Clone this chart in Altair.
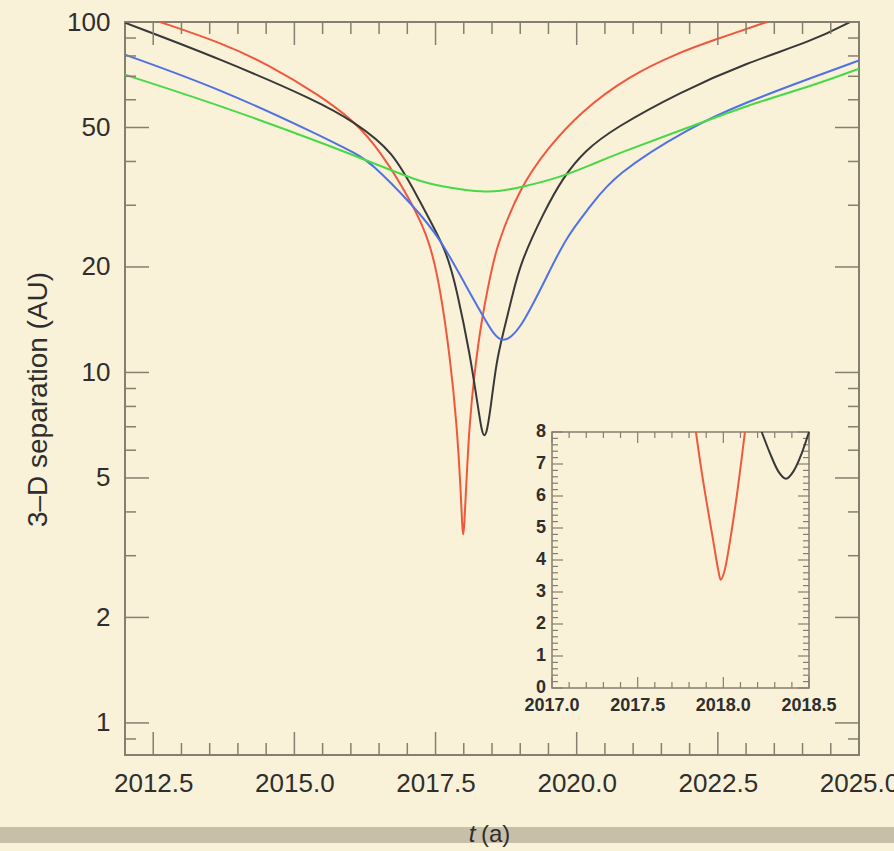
import altair as alt
import pandas as pd

# ---------------- data ----------------
red_t = [2012.62, 2013.68, 2014.57, 2015.45, 2016.04, 2016.52, 2017.10, 2017.40, 2017.58,
         2017.756, 2017.875, 2017.946, 2017.975, 2017.99, 2018.005, 2018.04, 2018.10, 2018.19,
         2018.31, 2018.46, 2018.58, 2019.00, 2019.47, 2020.06, 2020.94, 2021.83, 2022.41, 2023.37]
red_d = [100.0, 87.6, 75.2, 61.7, 52.5, 43.0, 30.2, 23.6, 17.5,
         11.1, 7.17, 4.63, 3.55, 3.41, 3.55, 4.63, 7.17, 10.0,
         14.0, 18.5, 23.0, 33.8, 43.3, 55.3, 70.4, 82.0, 88.6, 100.0]

black_t = [2012.0, 2013.68, 2015.45, 2016.04, 2016.75, 2017.22, 2017.70, 2017.875, 2018.11,
           2018.25, 2018.32, 2018.366, 2018.41, 2018.48, 2018.58, 2018.70, 2018.85, 2019.00,
           2019.41, 2019.76, 2020.15, 2020.65, 2021.83, 2023.01, 2024.19, 2024.84]
black_d = [99.5, 78.6, 59.1, 52.0, 43.0, 30.7, 22.3, 17.2, 11.3,
           8.0, 6.77, 6.55, 6.77, 8.0, 10.8, 13.0, 16.3, 20.5,
           28.5, 36.1, 43.0, 49.6, 63.1, 76.5, 88.5, 100.0]

blue_t = [2012.0, 2013.68, 2015.45, 2016.10, 2016.34, 2017.10, 2017.58, 2018.05, 2018.35,
          2018.52, 2018.69, 2018.86, 2019.00, 2019.17, 2019.41, 2019.82, 2020.24, 2020.65,
          2022.01, 2023.01, 2024.19, 2025.0]
blue_d = [80.7, 64.5, 47.5, 42.0, 39.9, 30.0, 24.2, 17.5, 14.4,
          12.9, 12.2, 12.7, 13.5, 15.07, 17.9, 24.5, 29.7, 36.5,
          50.2, 59.1, 69.6, 77.7]

green_t = [2012.0, 2013.68, 2015.45, 2016.64, 2017.22, 2017.81, 2018.35, 2018.64, 2019.00,
           2019.70, 2020.24, 2020.65, 2022.01, 2023.01, 2024.19, 2025.0]
green_d = [70.7, 57.8, 45.5, 38.2, 35.0, 33.5, 32.7, 32.9, 33.7,
           36.0, 39.0, 41.7, 50.2, 57.8, 65.9, 73.6]

# inset (zoom on the two closest approaches)
ins_red_t = [2017.84, 2017.863, 2017.90, 2017.94, 2017.97, 2017.984, 2018.009, 2018.04, 2018.078, 2018.126]
ins_red_d = [8.0, 7.13, 5.88, 4.63, 3.70, 3.38, 3.70, 4.63, 5.99, 8.0]
ins_black_t = [2018.224, 2018.272, 2018.321, 2018.366, 2018.409, 2018.458, 2018.50]
ins_black_d = [8.0, 7.34, 6.77, 6.54, 6.77, 7.34, 8.0]

# axis tick values / labels
x_labels = [2012.5, 2015.0, 2017.5, 2020.0, 2022.5, 2025.0]
x_minor = [2013.0, 2013.5, 2014.0, 2014.5, 2015.5, 2016.0, 2016.5, 2017.0, 2018.0, 2018.5,
           2019.0, 2019.5, 2020.5, 2021.0, 2021.5, 2022.0, 2023.0, 2023.5, 2024.0, 2024.5]
y_labels = [1, 2, 5, 10, 20, 50, 100]
y_minor = [0.9, 3, 4, 6, 7, 8, 9, 30, 40, 60, 70, 80, 90]

ins_x_labels = [2017.0, 2017.5, 2018.0, 2018.5]
ins_x_text = ["2017.0", "2017.5", "2018.0", "2018.5"]
ins_x_minor = [2017.1, 2017.2, 2017.3, 2017.4, 2017.6, 2017.7, 2017.8, 2017.9,
               2018.1, 2018.2, 2018.3, 2018.4]
ins_y_labels = [0, 1, 2, 3, 4, 5, 6, 7, 8]
ins_y_minor = [round(i * 0.2, 1) for i in range(1, 40) if i % 5]

# ---------------- styling ----------------
BG = "#f9f1d8"
AX = "#857f70"
TXT = "#2e2e2e"
FONT = "Liberation Sans"
W, H = 734, 733

COL_RED = "#f0583e"
COL_BLACK = "#383838"
COL_BLUE = "#5072e2"
COL_GREEN = "#48d848"

X_MAIN = alt.Scale(domain=[2012.0, 2025.0], nice=False, zero=False)
Y_MAIN = alt.Scale(type="log", domain=[0.81, 100.0], nice=False)
X_INS = alt.Scale(domain=[2017.0, 2018.5], range=[427, 684], nice=False, zero=False)
Y_INS = alt.Scale(domain=[0, 8], range=[666, 410], nice=False, zero=False)


def curve(t, d, color, xs, ys, first=False, interp="basis"):
    df = pd.DataFrame({"t": t, "d": d})
    mark = alt.Chart(df).mark_line(color=color, strokeWidth=2, clip=True, interpolate=interp)
    if first:
        xax = alt.Axis(values=x_labels, format=".1f", ticks=False, domain=False, grid=False,
                       labelFont=FONT, labelFontSize=26, labelColor=TXT, labelPadding=15,
                       labelFlush=False, labelOverlap=False)
        yax = alt.Axis(values=y_labels, format="d", ticks=False, domain=False, grid=False,
                       labelFont=FONT, labelFontSize=26, labelColor=TXT, labelPadding=15,
                       labelOverlap=False,
                       titleFont=FONT, titleFontSize=28, titleFontWeight="normal",
                       titleColor=TXT, titleAngle=270, titleBaseline="middle",
                       titleAlign="center", titleX=-87, titleY=377)
        return mark.encode(
            x=alt.X("t:Q", scale=xs, axis=xax, title=None),
            y=alt.Y("d:Q", scale=ys, axis=yax, title="3–D separation (AU)"),
        )
    return mark.encode(
        x=alt.X("t:Q", scale=xs, axis=None),
        y=alt.Y("d:Q", scale=ys, axis=None),
    )


def vticks(vals, xs, y_a, y_b, width=1.5):
    df = pd.DataFrame({"v": vals})
    return alt.Chart(df).mark_rule(color=AX, strokeWidth=width).encode(
        x=alt.X("v:Q", scale=xs, axis=None), y=alt.value(y_a), y2=alt.value(y_b))


def hticks(vals, ys, x_a, x_b, width=1.5):
    df = pd.DataFrame({"v": vals})
    return alt.Chart(df).mark_rule(color=AX, strokeWidth=width).encode(
        y=alt.Y("v:Q", scale=ys, axis=None), x=alt.value(x_a), x2=alt.value(x_b))


layers = []
# main curves
layers.append(curve(red_t, red_d, COL_RED, X_MAIN, Y_MAIN, first=True))
layers.append(curve(black_t, black_d, COL_BLACK, X_MAIN, Y_MAIN))
layers.append(curve(blue_t, blue_d, COL_BLUE, X_MAIN, Y_MAIN))
layers.append(curve(green_t, green_d, COL_GREEN, X_MAIN, Y_MAIN))

# main inward ticks on all four sides
layers.append(vticks(x_labels, X_MAIN, H, H - 23))
layers.append(vticks(x_labels, X_MAIN, 0, 23))
layers.append(vticks(x_minor, X_MAIN, H, H - 12))
layers.append(vticks(x_minor, X_MAIN, 0, 12))
layers.append(hticks(y_labels, Y_MAIN, 0, 24))
layers.append(hticks(y_labels, Y_MAIN, W, W - 24))
layers.append(hticks(y_minor, Y_MAIN, 0, 11))
layers.append(hticks(y_minor, Y_MAIN, W, W - 11))

# inset frame
frame_df = pd.DataFrame({"x0": [2017.0], "x1": [2018.5], "y0": [0.0], "y1": [8.0]})
layers.append(alt.Chart(frame_df).mark_rect(fill=BG, stroke=AX, strokeWidth=1.5).encode(
    x=alt.X("x0:Q", scale=X_INS, axis=None), x2="x1:Q",
    y=alt.Y("y0:Q", scale=Y_INS, axis=None), y2="y1:Q"))

# inset ticks
layers.append(vticks(ins_x_labels, X_INS, 666, 655, 1.2))
layers.append(vticks(ins_x_labels, X_INS, 410, 421, 1.2))
layers.append(vticks(ins_x_minor, X_INS, 666, 660, 1.2))
layers.append(vticks(ins_x_minor, X_INS, 410, 416, 1.2))
layers.append(hticks(ins_y_labels, Y_INS, 427, 438, 1.2))
layers.append(hticks(ins_y_labels, Y_INS, 684, 673, 1.2))
layers.append(hticks(ins_y_minor, Y_INS, 427, 433, 1.2))
layers.append(hticks(ins_y_minor, Y_INS, 684, 678, 1.2))

# inset curves
layers.append(curve(ins_red_t, ins_red_d, COL_RED, X_INS, Y_INS, interp="monotone"))
layers.append(curve(ins_black_t, ins_black_d, COL_BLACK, X_INS, Y_INS, interp="monotone"))

# inset labels
ix = pd.DataFrame({"v": ins_x_labels, "s": ins_x_text})
layers.append(alt.Chart(ix).mark_text(font=FONT, fontSize=18, fontWeight="bold", color=TXT,
                                      align="center", baseline="middle").encode(
    x=alt.X("v:Q", scale=X_INS, axis=None), y=alt.value(684), text="s:N"))
iy = pd.DataFrame({"v": ins_y_labels, "s": [str(v) for v in ins_y_labels]})
layers.append(alt.Chart(iy).mark_text(font=FONT, fontSize=18, fontWeight="bold", color=TXT,
                                      align="right", baseline="middle").encode(
    y=alt.Y("v:Q", scale=Y_INS, axis=None), x=alt.value(421), text="s:N"))

# grey band at the bottom of the picture
layers.append(alt.Chart(pd.DataFrame({"a": [0]})).mark_rect(color="#c7bfa7").encode(
    x=alt.value(-125), x2=alt.value(W + 35), y=alt.value(805), y2=alt.value(821)))

# x-axis title "t (a)" with italic t
layers.append(alt.Chart(pd.DataFrame({"s": ["t"]})).mark_text(
    font=FONT, fontSize=24, fontStyle="italic", color=TXT, align="center", baseline="middle").encode(
    x=alt.value(347), y=alt.value(813), text="s:N"))
layers.append(alt.Chart(pd.DataFrame({"s": ["(a)"]})).mark_text(
    font=FONT, fontSize=24, color=TXT, align="left", baseline="middle").encode(
    x=alt.value(356), y=alt.value(813), text="s:N"))

chart = alt.layer(*layers).resolve_scale(x="independent", y="independent").properties(
    width=W, height=H,
    padding={"left": 125, "top": 22, "right": 35, "bottom": 96},
    autosize=alt.AutoSizeParams(type="none"),
).configure(background=BG).configure_view(stroke=AX, strokeWidth=2, fill=BG)

chart.save("out.html", embed_options={"renderer": "svg", "actions": False})
